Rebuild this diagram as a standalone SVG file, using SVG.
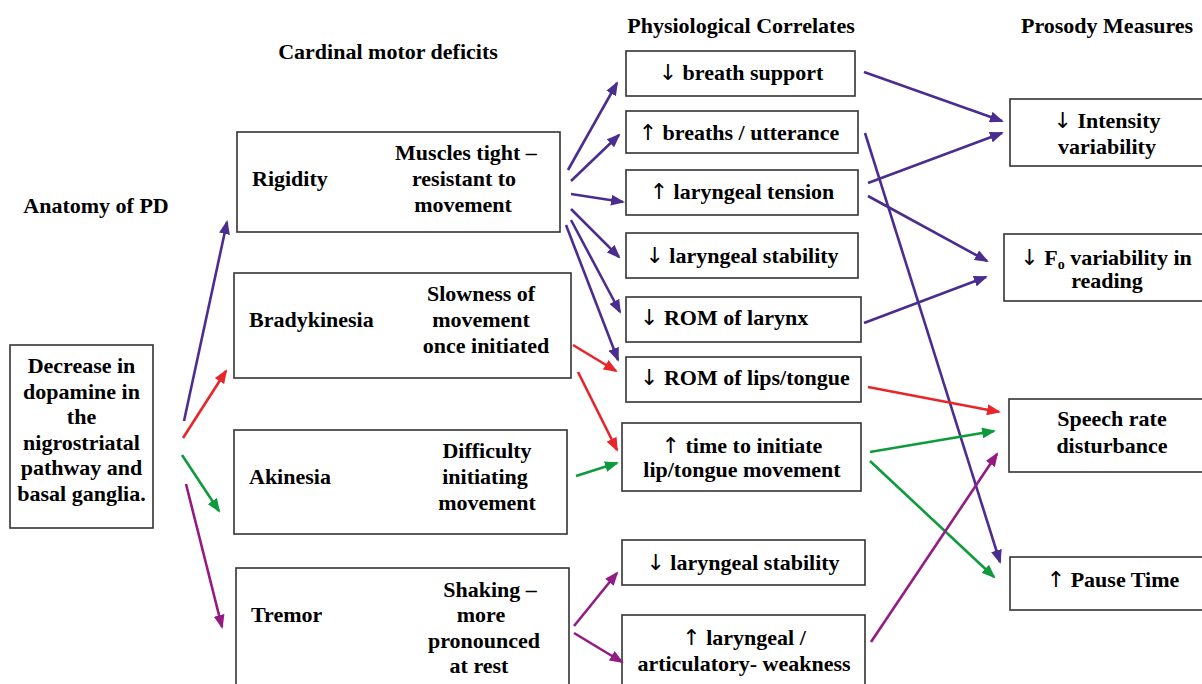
<svg xmlns="http://www.w3.org/2000/svg" width="1202" height="684" viewBox="0 0 1202 684">
<style>
  text, tspan { font-family: 'Liberation Serif', 'Times New Roman', serif !important; font-weight: bold !important; font-size: 22px; fill: #000; }
  .c { text-anchor: middle; }
  tspan.ar { font-family: 'DejaVu Sans', sans-serif !important; font-weight: normal !important; }
  tspan.sub { font-size: 14px; }
  .box { fill: #fff; stroke: #333; stroke-width: 1.6; }
  .pu { stroke: #4b2d8f; }
  .rd { stroke: #e8252a; }
  .gr { stroke: #0d9b3c; }
  .mg { stroke: #931b83; }
  #connectors line { stroke-width: 2.6; fill: none; }
</style>
<defs>
  <marker id="aPu" markerUnits="userSpaceOnUse" markerWidth="14" markerHeight="11" refX="12" refY="5.5" orient="auto"><path d="M0,0 L14,5.5 L0,11 z" fill="#4b2d8f"/></marker>
  <marker id="aRd" markerUnits="userSpaceOnUse" markerWidth="14" markerHeight="11" refX="12" refY="5.5" orient="auto"><path d="M0,0 L14,5.5 L0,11 z" fill="#e8252a"/></marker>
  <marker id="aGr" markerUnits="userSpaceOnUse" markerWidth="14" markerHeight="11" refX="12" refY="5.5" orient="auto"><path d="M0,0 L14,5.5 L0,11 z" fill="#0d9b3c"/></marker>
  <marker id="aMg" markerUnits="userSpaceOnUse" markerWidth="14" markerHeight="11" refX="12" refY="5.5" orient="auto"><path d="M0,0 L14,5.5 L0,11 z" fill="#931b83"/></marker>
</defs>
<rect width="1202" height="684" fill="#fff"/>

<g id="titles">
  <text class="c" x="96" y="213" style="font-family:'Liberation Serif',serif">Anatomy of PD</text>
  <text class="c" x="388" y="59" style="font-family:'Liberation Serif',serif">Cardinal motor deficits</text>
  <text class="c" x="741" y="33" style="font-family:'Liberation Serif',serif">Physiological Correlates</text>
  <text x="1021" y="33" style="font-family:'Liberation Serif',serif">Prosody Measures</text>
</g>

<g id="anatomy">
  <rect class="box" x="10" y="345" width="143" height="183"/>
  <text class="c" x="81.5" y="373" style="font-family:'Liberation Serif',serif">Decrease in</text>
  <text class="c" x="81.5" y="399" style="font-family:'Liberation Serif',serif">dopamine in</text>
  <text class="c" x="81.5" y="424" style="font-family:'Liberation Serif',serif">the</text>
  <text class="c" x="81.5" y="450" style="font-family:'Liberation Serif',serif">nigrostriatal</text>
  <text class="c" x="81.5" y="475" style="font-family:'Liberation Serif',serif">pathway and</text>
  <text class="c" x="81.5" y="501" style="font-family:'Liberation Serif',serif">basal ganglia.</text>
</g>

<g id="rigidity">
  <rect class="box" x="237" y="132" width="323" height="100"/>
  <text x="252" y="186" style="font-family:'Liberation Serif',serif">Rigidity</text>
  <text class="c" x="466" y="160" style="font-family:'Liberation Serif',serif">Muscles tight –</text>
  <text class="c" x="464" y="186" style="font-family:'Liberation Serif',serif">resistant to</text>
  <text class="c" x="463" y="212" style="font-family:'Liberation Serif',serif">movement</text>
</g>
<g id="bradykinesia">
  <rect class="box" x="234" y="273" width="337" height="105"/>
  <text x="249" y="327" style="font-family:'Liberation Serif',serif">Bradykinesia</text>
  <text class="c" x="481" y="301" style="font-family:'Liberation Serif',serif">Slowness of</text>
  <text class="c" x="481" y="327" style="font-family:'Liberation Serif',serif">movement</text>
  <text class="c" x="486" y="353" style="font-family:'Liberation Serif',serif">once initiated</text>
</g>
<g id="akinesia">
  <rect class="box" x="234" y="430" width="333" height="104"/>
  <text x="249" y="484" style="font-family:'Liberation Serif',serif">Akinesia</text>
  <text class="c" x="487" y="458" style="font-family:'Liberation Serif',serif">Difficulty</text>
  <text class="c" x="485" y="484" style="font-family:'Liberation Serif',serif">initiating</text>
  <text class="c" x="487" y="510" style="font-family:'Liberation Serif',serif">movement</text>
</g>
<g id="tremor">
  <rect class="box" x="236" y="568" width="333" height="122"/>
  <text x="251" y="622" style="font-family:'Liberation Serif',serif">Tremor</text>
  <text class="c" x="490" y="597" style="font-family:'Liberation Serif',serif">Shaking –</text>
  <text class="c" x="481" y="622" style="font-family:'Liberation Serif',serif">more</text>
  <text class="c" x="484" y="648" style="font-family:'Liberation Serif',serif">pronounced</text>
  <text class="c" x="479" y="673" style="font-family:'Liberation Serif',serif">at rest</text>
</g>

<g id="breath-support">
  <rect class="box" x="626" y="51" width="229" height="45"/>
  <text class="c" x="741" y="80" style="font-family:'Liberation Serif',serif"><tspan class="ar">↓</tspan> breath support</text>
</g>
<g id="breaths-utterance">
  <rect class="box" x="626" y="111" width="232" height="42"/>
  <text class="c" x="739" y="140" style="font-family:'Liberation Serif',serif"><tspan class="ar">↑</tspan> breaths / utterance</text>
</g>
<g id="laryngeal-tension">
  <rect class="box" x="626" y="170" width="232" height="45"/>
  <text class="c" x="742" y="199" style="font-family:'Liberation Serif',serif"><tspan class="ar">↑</tspan> laryngeal tension</text>
</g>
<g id="laryngeal-stability-1">
  <rect class="box" x="626" y="233" width="232" height="45"/>
  <text class="c" x="742" y="263" style="font-family:'Liberation Serif',serif"><tspan class="ar">↓</tspan> laryngeal stability</text>
</g>
<g id="rom-larynx">
  <rect class="box" x="626" y="297" width="235" height="45"/>
  <text x="640" y="325" style="font-family:'Liberation Serif',serif"><tspan class="ar">↓</tspan> ROM of larynx</text>
</g>
<g id="rom-lips">
  <rect class="box" x="626" y="357" width="235" height="45"/>
  <text x="640" y="385" style="font-family:'Liberation Serif',serif"><tspan class="ar">↓</tspan> ROM of lips/tongue</text>
</g>
<g id="time-initiate">
  <rect class="box" x="622" y="423" width="239" height="68"/>
  <text class="c" x="742" y="453" style="font-family:'Liberation Serif',serif"><tspan class="ar">↑</tspan> time to initiate</text>
  <text class="c" x="742" y="477" style="font-family:'Liberation Serif',serif">lip/tongue movement</text>
</g>
<g id="laryngeal-stability-2">
  <rect class="box" x="622" y="540" width="243" height="45"/>
  <text class="c" x="743" y="570" style="font-family:'Liberation Serif',serif"><tspan class="ar">↓</tspan> laryngeal stability</text>
</g>
<g id="weakness">
  <rect class="box" x="622" y="615" width="243" height="75"/>
  <text class="c" x="744" y="645" style="font-family:'Liberation Serif',serif"><tspan class="ar">↑</tspan> laryngeal /</text>
  <text class="c" x="744" y="671" style="font-family:'Liberation Serif',serif">articulatory- weakness</text>
</g>

<g id="intensity">
  <rect class="box" x="1010" y="99" width="200" height="67"/>
  <text class="c" x="1107" y="128" style="font-family:'Liberation Serif',serif"><tspan class="ar">↓</tspan> Intensity</text>
  <text class="c" x="1107" y="154" style="font-family:'Liberation Serif',serif">variability</text>
</g>
<g id="f0">
  <rect class="box" x="1004" y="234" width="206" height="67"/>
  <text class="c" x="1106" y="265" style="font-family:'Liberation Serif',serif"><tspan class="ar">↓</tspan> F<tspan class="sub" dy="4">o</tspan><tspan dy="-4"> variability in</tspan></text>
  <text class="c" x="1107" y="288" style="font-family:'Liberation Serif',serif">reading</text>
</g>
<g id="speech-rate">
  <rect class="box" x="1009" y="399" width="200" height="73"/>
  <text class="c" x="1112" y="426" style="font-family:'Liberation Serif',serif">Speech rate</text>
  <text class="c" x="1112" y="453" style="font-family:'Liberation Serif',serif">disturbance</text>
</g>
<g id="pause-time">
  <rect class="box" x="1010" y="557" width="200" height="53"/>
  <text class="c" x="1113" y="587" style="font-family:'Liberation Serif',serif"><tspan class="ar">↑</tspan> Pause Time</text>
</g>

<g id="connectors">
  <line class="pu" x1="184" y1="421" x2="227" y2="222" marker-end="url(#aPu)"/>
  <line class="rd" x1="183" y1="438" x2="226" y2="371" marker-end="url(#aRd)"/>
  <line class="gr" x1="182" y1="455" x2="219" y2="511" marker-end="url(#aGr)"/>
  <line class="mg" x1="186" y1="484" x2="222" y2="627" marker-end="url(#aMg)"/>

  <line class="pu" x1="568" y1="170" x2="617" y2="83" marker-end="url(#aPu)"/>
  <line class="pu" x1="571" y1="181" x2="619" y2="135" marker-end="url(#aPu)"/>
  <line class="pu" x1="571" y1="194" x2="623" y2="202" marker-end="url(#aPu)"/>
  <line class="pu" x1="571" y1="209" x2="619" y2="257" marker-end="url(#aPu)"/>
  <line class="pu" x1="571" y1="220" x2="620" y2="312" marker-end="url(#aPu)"/>
  <line class="pu" x1="566" y1="225" x2="618" y2="360" marker-end="url(#aPu)"/>

  <line class="rd" x1="573" y1="345" x2="616" y2="371" marker-end="url(#aRd)"/>
  <line class="rd" x1="578" y1="372" x2="617" y2="450" marker-end="url(#aRd)"/>
  <line class="gr" x1="576" y1="476" x2="617" y2="463" marker-end="url(#aGr)"/>
  <line class="mg" x1="574" y1="626" x2="617" y2="573" marker-end="url(#aMg)"/>
  <line class="mg" x1="574" y1="633" x2="622" y2="662" marker-end="url(#aMg)"/>

  <line class="pu" x1="864" y1="72" x2="1002" y2="121" marker-end="url(#aPu)"/>
  <line class="pu" x1="865" y1="133" x2="1000" y2="562" marker-end="url(#aPu)"/>
  <line class="pu" x1="868" y1="183" x2="1002" y2="133" marker-end="url(#aPu)"/>
  <line class="pu" x1="868" y1="196" x2="987" y2="261" marker-end="url(#aPu)"/>
  <line class="pu" x1="864" y1="323" x2="986" y2="277" marker-end="url(#aPu)"/>
  <line class="rd" x1="868" y1="387" x2="999" y2="412" marker-end="url(#aRd)"/>
  <line class="gr" x1="870" y1="452" x2="994" y2="431" marker-end="url(#aGr)"/>
  <line class="gr" x1="870" y1="461" x2="994" y2="577" marker-end="url(#aGr)"/>
  <line class="mg" x1="871" y1="642" x2="997" y2="454" marker-end="url(#aMg)"/>
</g>
</svg>
